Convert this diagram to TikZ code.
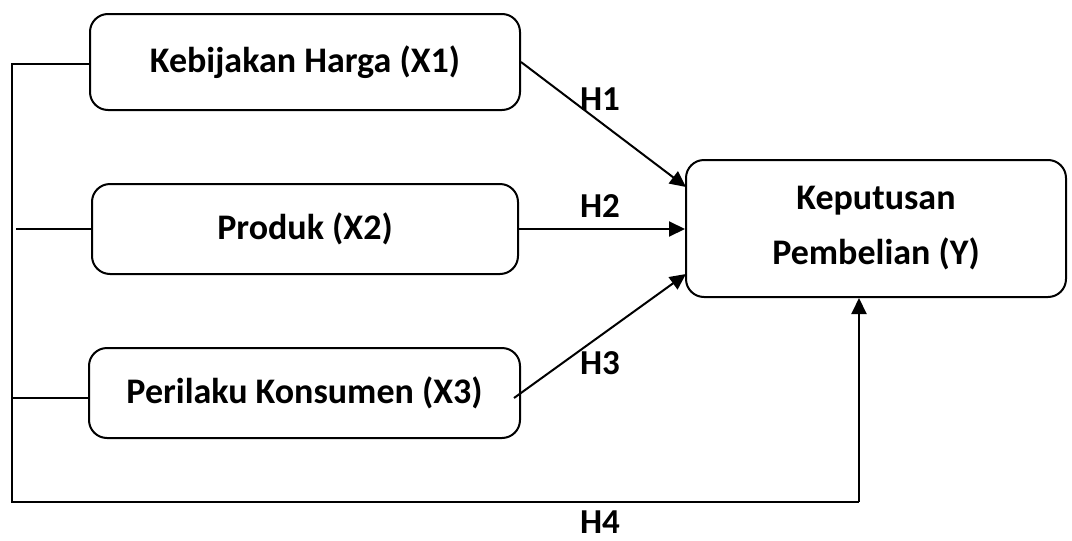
\documentclass[tikz,border=0pt]{standalone}
\usepackage{fontspec}
\setmainfont{Carlito}
\usetikzlibrary{arrows.meta}
\begin{document}
\begin{tikzpicture}[x=0.5pt,y=-0.5pt,
  box/.style={draw,line width=1pt,rounded corners=9pt,inner sep=0pt,align=center,font=\fontsize{18}{27.5}\selectfont\bfseries},
  conn/.style={line width=1pt},
  arr/.style={line width=1pt,-{Triangle[length=8pt,width=7.5pt]}},
  lab/.style={inner sep=0pt,font=\fontsize{17.5}{20}\selectfont\bfseries}]
\useasboundingbox (0,0) rectangle (1072,541);
\node[box,minimum width=430*0.5pt,minimum height=96*0.5pt] (x1) at (305,62) {Kebijakan Harga (X1)};
\node[box,minimum width=426*0.5pt,minimum height=90*0.5pt] (x2) at (305,229) {Produk (X2)};
\node[box,minimum width=431*0.5pt,minimum height=90*0.5pt] (x3) at (304.5,393) {Perilaku Konsumen (X3)};
\node[box,minimum width=380*0.5pt,minimum height=137*0.5pt] (y) at (876,228.5) {Keputusan\\Pembelian (Y)};
% inputs
\coordinate (tl) at (12,64);
\coordinate (bl) at (12,502);
\coordinate (br) at (859,502);
\coordinate (l2) at (16,229);
\coordinate (l3) at (12,398);
\draw[conn] (x1.west |- tl) -- (tl) -- (bl) -- (br);
\draw[arr] (br) -- (br |- y.south);
\draw[conn] (l2) -- (x2.west);
\draw[conn] (l3) -- (x3.west |- l3);
% arrows
\draw[arr] (x1.east |- 0,62) -- (686,187);
\draw[arr] (x2.east) -- (x2.east -| y.west);
\draw[arr] (514,398) -- (686,274);
\node[lab] (h1) at (600,99) {H1};
\node[lab] (h2) at (600,206) {H2};
\node[lab] (h3) at (600,363) {H3};
\node[lab] (h4) at (600,522) {H4};
\end{tikzpicture}
\end{document}
